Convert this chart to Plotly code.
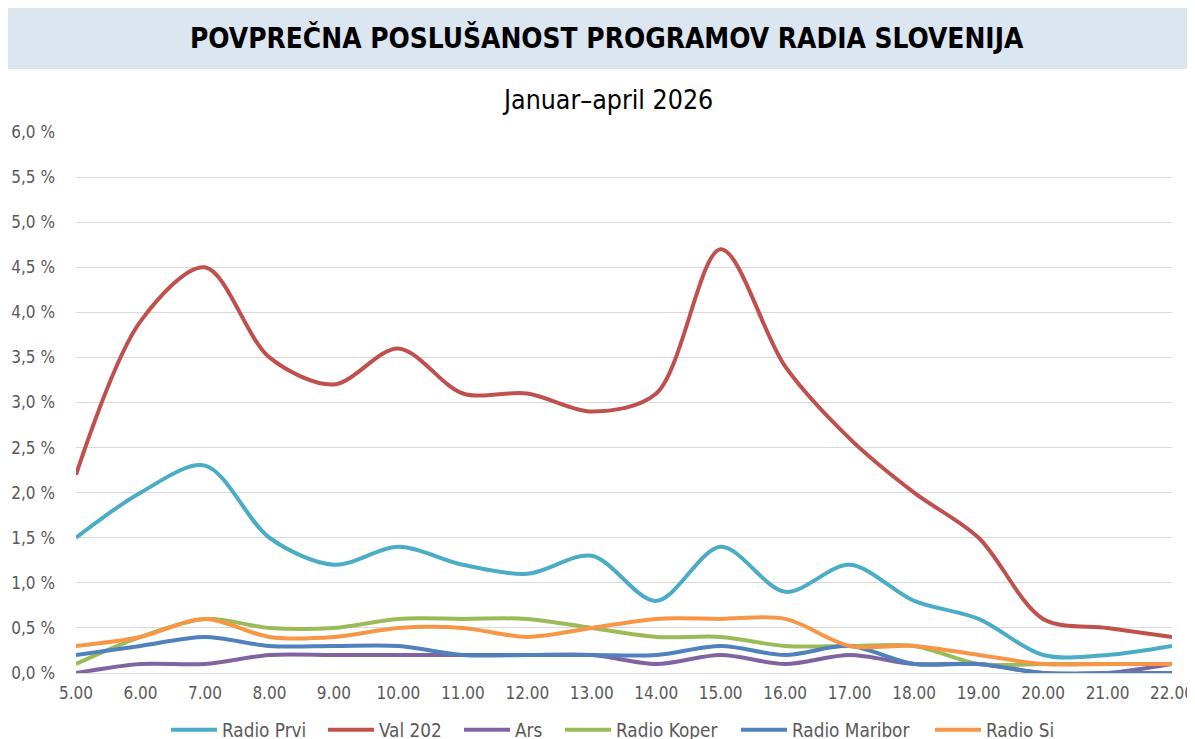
import plotly.graph_objects as go

hours = [5, 6, 7, 8, 9, 10, 11, 12, 13, 14, 15, 16, 17, 18, 19, 20, 21, 22]
hour_labels = [f"{h}.00" for h in hours]

radio_prvi = [1.5, 2.0, 2.3, 1.5, 1.2, 1.4, 1.2, 1.1, 1.3, 0.8, 1.4, 0.9, 1.2, 0.8, 0.6, 0.2, 0.2, 0.3]
val_202 = [2.2, 3.9, 4.5, 3.5, 3.2, 3.6, 3.1, 3.1, 2.9, 3.1, 4.7, 3.4, 2.6, 2.0, 1.5, 0.6, 0.5, 0.4]
ars = [0.0, 0.1, 0.1, 0.2, 0.2, 0.2, 0.2, 0.2, 0.2, 0.1, 0.2, 0.1, 0.2, 0.1, 0.1, 0.0, 0.0, 0.1]
radio_koper = [0.1, 0.4, 0.6, 0.5, 0.5, 0.6, 0.6, 0.6, 0.5, 0.4, 0.4, 0.3, 0.3, 0.3, 0.1, 0.1, 0.1, 0.1]
radio_maribor = [0.2, 0.3, 0.4, 0.3, 0.3, 0.3, 0.2, 0.2, 0.2, 0.2, 0.3, 0.2, 0.3, 0.1, 0.1, 0.0, 0.0, 0.0]
radio_si = [0.3, 0.4, 0.6, 0.4, 0.4, 0.5, 0.5, 0.4, 0.5, 0.6, 0.6, 0.6, 0.3, 0.3, 0.2, 0.1, 0.1, 0.1]

y_ticks = [0, 0.5, 1, 1.5, 2, 2.5, 3, 3.5, 4, 4.5, 5, 5.5, 6]
y_labels = ["0,0 %", "0,5 %", "1,0 %", "1,5 %", "2,0 %", "2,5 %", "3,0 %",
            "3,5 %", "4,0 %", "4,5 %", "5,0 %", "5,5 %", "6,0 %"]

series = [
    ("Radio Prvi", radio_prvi, "#4BACC6"),
    ("Val 202", val_202, "#C0504D"),
    ("Ars", ars, "#8064A2"),
    ("Radio Koper", radio_koper, "#9BBB59"),
    ("Radio Maribor", radio_maribor, "#4F81BD"),
    ("Radio Si", radio_si, "#F79646"),
]

FONT = "DejaVu Sans Condensed, DejaVu Sans, sans-serif"
GREY = "#595959"

# plot area in figure pixels (page adds 8px body margin); figure is a bit
# taller than the window so the legend does not squeeze the plot
W, H = 1195, 760
L, R, T = 68, 31, 124
B = H - 665
PH = H - T - B
PW = W - L - R

# left edge (px) of each legend entry, one legend per series
legend_left = [158, 315, 451, 552, 728, 922]

fig = go.Figure()

layout_legends = {}
for i, (name, vals, color) in enumerate(series):
    key = "legend" if i == 0 else f"legend{i + 1}"
    fig.add_trace(go.Scatter(
        x=hours,
        y=vals,
        name=name,
        mode="lines",
        line=dict(color=color, width=4, shape="spline", smoothing=0.9),
        cliponaxis=False,
        legend=key,
        hovertemplate="%{y:.1f} %<extra>" + name + "</extra>",
    ))
    layout_legends[key] = dict(
        orientation="h",
        x=(legend_left[i] - L) / PW, xanchor="left",
        y=-57 / PH, yanchor="middle",
        font=dict(size=18.8, color=GREY),
        itemwidth=46,
        bgcolor="rgba(0,0,0,0)",
    )

# title band
fig.add_shape(
    type="rect", xref="paper", yref="paper",
    x0=-L / PW, x1=1 + R / PW, y0=1 + (T - 61) / PH, y1=1 + T / PH,
    fillcolor="#DCE6F1", line=dict(width=0), layer="below",
)

fig.update_layout(
    width=W,
    height=H,
    margin=dict(l=L, r=R, t=T, b=B),
    plot_bgcolor="white",
    paper_bgcolor="white",
    font=dict(family=FONT, color=GREY, size=17),
    annotations=[
        dict(
            text="<b>POVPREČNA POSLUŠANOST PROGRAMOV RADIA SLOVENIJA</b>",
            xref="paper", yref="paper", x=(599 - L) / PW, y=1 + (T - 30) / PH,
            xanchor="center", yanchor="middle", showarrow=False,
            font=dict(family=FONT, size=27.8, color="#000000"),
        ),
        dict(
            text="Januar–april 2026",
            xref="paper", yref="paper", x=(599 - L) / PW, y=1 + (T - 92) / PH,
            xanchor="center", yanchor="middle", showarrow=False,
            font=dict(family=FONT, size=26.5, color="#000000"),
        ),
    ],
    xaxis=dict(
        range=[5, 22],
        tickvals=hours,
        ticktext=hour_labels,
        showgrid=False,
        zeroline=False,
        showline=False,
        ticks="",
        ticklabelstandoff=8,
        automargin=False,
        tickfont=dict(size=17, color=GREY),
    ),
    yaxis=dict(
        range=[0, 6],
        tickvals=y_ticks,
        ticktext=y_labels,
        showgrid=True,
        gridcolor="#D9D9D9",
        gridwidth=1,
        zeroline=True,
        zerolinecolor="#D9D9D9",
        zerolinewidth=1,
        ticks="",
        ticklabelstandoff=20,
        automargin=False,
        tickfont=dict(size=17, color=GREY),
    ),
    showlegend=True,
    **layout_legends,
)

fig.write_html("out.html")
